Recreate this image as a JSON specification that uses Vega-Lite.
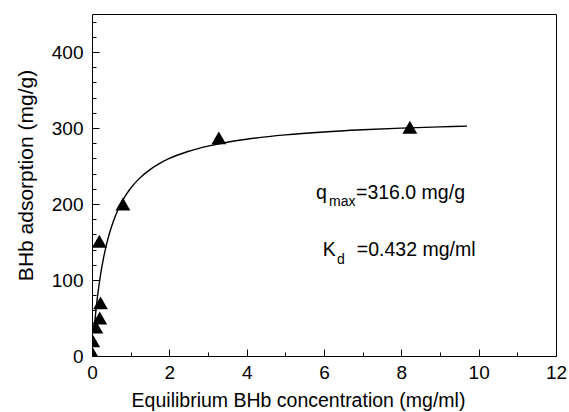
{
  "$schema": "https://vega.github.io/schema/vega-lite/v6.json",
  "width": 464,
  "height": 342,
  "autosize": {"type": "none"},
  "padding": {"left": 92, "top": 14, "right": 13, "bottom": 56},
  "background": "white",
  "config": {
    "view": {"stroke": "black", "strokeWidth": 1},
    "font": "Liberation Sans",
    "axis": {
      "grid": false,
      "domain": false,
      "ticks": true,
      "tickColor": "black",
      "tickWidth": 1,
      "labelColor": "black",
      "labelFont": "Liberation Sans",
      "labelFontSize": 19,
      "titleFont": "Liberation Sans",
      "titleFontWeight": "normal",
      "titleColor": "black",
      "labelOverlap": false,
      "labelFlush": false
    }
  },
  "datasets": {
    "points": [
      {"c": 0.02, "q": 3},
      {"c": 0.02, "q": 20},
      {"c": 0.1, "q": 38},
      {"c": 0.2, "q": 50},
      {"c": 0.22, "q": 70},
      {"c": 0.19, "q": 151},
      {"c": 0.8, "q": 200},
      {"c": 3.28, "q": 287},
      {"c": 8.22, "q": 301}
    ],
    "fit": [
      {"c": 0.05, "q": 32.8},
      {"c": 0.1, "q": 59.4},
      {"c": 0.15, "q": 81.4},
      {"c": 0.2, "q": 100.0},
      {"c": 0.25, "q": 115.8},
      {"c": 0.3, "q": 129.5},
      {"c": 0.4, "q": 151.9},
      {"c": 0.5, "q": 169.5},
      {"c": 0.6, "q": 183.7},
      {"c": 0.7, "q": 195.4},
      {"c": 0.8, "q": 205.2},
      {"c": 0.9, "q": 213.5},
      {"c": 1.0, "q": 220.7},
      {"c": 1.2, "q": 232.4},
      {"c": 1.5, "q": 245.3},
      {"c": 1.75, "q": 253.4},
      {"c": 2.0, "q": 259.9},
      {"c": 2.5, "q": 269.4},
      {"c": 3.0, "q": 276.2},
      {"c": 3.5, "q": 281.3},
      {"c": 4.0, "q": 285.2},
      {"c": 5.0, "q": 290.9},
      {"c": 6.0, "q": 294.8},
      {"c": 7.0, "q": 297.6},
      {"c": 8.0, "q": 299.8},
      {"c": 9.0, "q": 301.5},
      {"c": 9.7, "q": 302.5}
    ],
    "notes": [
      {"c": 5.793, "q": 206.6, "t": "q"},
      {"c": 6.828, "q": 206.6, "t": "=316.0 mg/g"},
      {"c": 5.966, "q": 132.2, "t": "K"},
      {"c": 6.85, "q": 132.2, "t": "=0.432 mg/ml"}
    ],
    "subs": [
      {"c": 6.129, "q": 197.4, "t": "max"},
      {"c": 6.336, "q": 121.1, "t": "d"}
    ]
  },
  "resolve": {"axis": {"x": "independent", "y": "independent"}},
  "layer": [
    {
      "encoding": {
        "x": {
          "field": "c", "type": "quantitative",
          "scale": {"domain": [0, 12], "nice": false, "zero": false},
          "axis": {
            "orient": "bottom",
            "values": [0, 2, 4, 6, 8, 10, 12],
            "tickSize": -7,
            "labelPadding": 14,
            "title": "Equilibrium BHb concentration (mg/ml)",
            "titleFontSize": 19.5,
            "titleX": 206,
            "titleY": 50,
            "titleAlign": "center",
            "titleBaseline": "alphabetic"
          }
        },
        "y": {
          "field": "q", "type": "quantitative",
          "scale": {"domain": [0, 450], "nice": false, "zero": false},
          "axis": {
            "orient": "left",
            "values": [0, 100, 200, 300, 400],
            "tickSize": -7,
            "labelPadding": 16,
            "title": "BHb adsorption (mg/g)",
            "titleFontSize": 21,
            "titleAngle": -90,
            "titleX": -60,
            "titleY": 161,
            "titleAlign": "center",
            "titleBaseline": "alphabetic"
          }
        }
      },
      "layer": [
        {
          "data": {"name": "fit"},
          "mark": {"type": "line", "color": "black", "strokeWidth": 1.4, "interpolate": "monotone", "clip": true}
        },
        {
          "data": {"name": "points"},
          "mark": {"type": "point", "shape": "triangle-up", "filled": true, "color": "black", "opacity": 1, "size": 220, "clip": true}
        },
        {
          "data": {"name": "notes"},
          "mark": {"type": "text", "align": "left", "baseline": "alphabetic", "fontSize": 19.5, "font": "Liberation Sans", "color": "black"},
          "encoding": {"text": {"field": "t"}}
        },
        {
          "data": {"name": "subs"},
          "mark": {"type": "text", "align": "left", "baseline": "alphabetic", "fontSize": 14, "font": "Liberation Sans", "color": "black"},
          "encoding": {"text": {"field": "t"}}
        }
      ]
    },
    {
      "data": {"name": "points"},
      "mark": {"type": "point", "opacity": 0, "size": 1},
      "encoding": {
        "x": {
          "field": "c", "type": "quantitative",
          "scale": {"domain": [0, 12], "nice": false, "zero": false},
          "axis": {"orient": "bottom", "values": [1, 3, 5, 7, 9, 11], "tickSize": -4, "labels": false, "title": null}
        },
        "y": {
          "field": "q", "type": "quantitative",
          "scale": {"domain": [0, 450], "nice": false, "zero": false},
          "axis": {"orient": "left", "values": [20, 40, 60, 80, 120, 140, 160, 180, 220, 240, 260, 280, 320, 340, 360, 380, 420, 440], "tickSize": -4, "labels": false, "title": null}
        }
      }
    }
  ]
}
